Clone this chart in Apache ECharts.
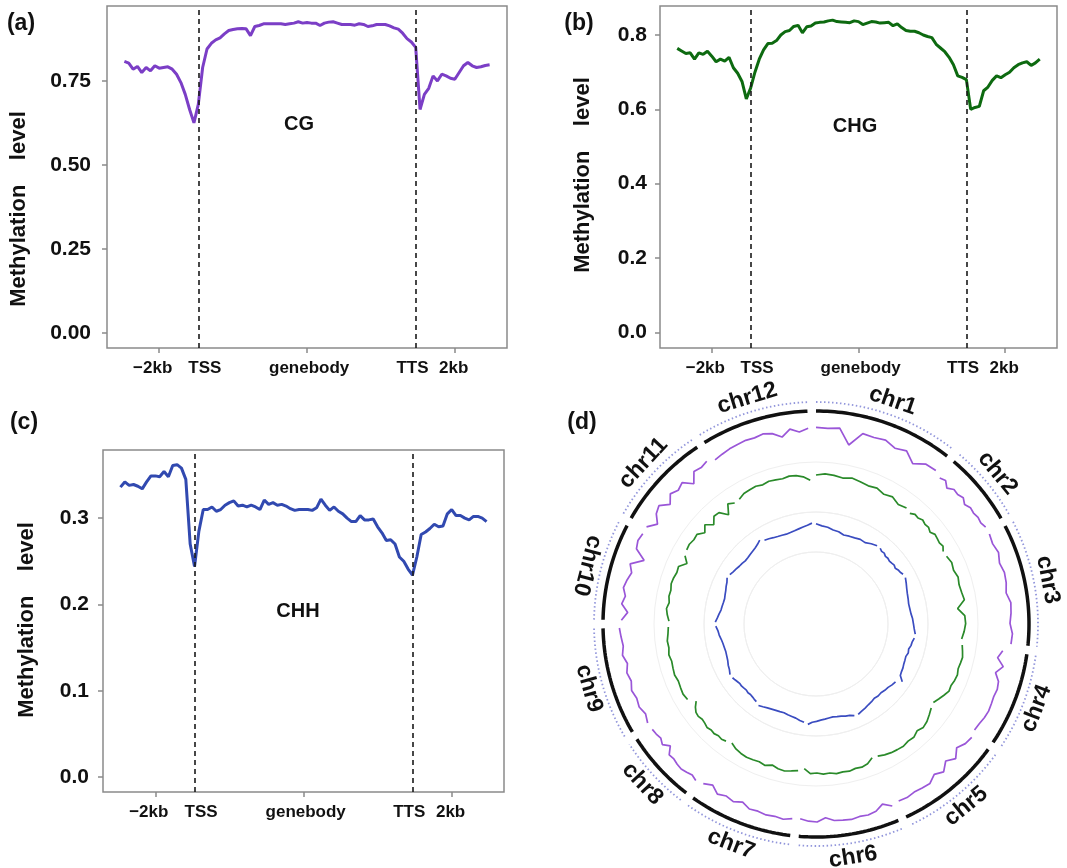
<!DOCTYPE html>
<html>
<head>
<meta charset="utf-8">
<script src="https://cdn.jsdelivr.net/npm/echarts@6/dist/echarts.min.js"></script>
<style>
html, body { margin: 0; padding: 0; background: #fff; }
#main { width: 1067px; height: 868px; }
</style>
</head>
<body>
<div id="main"></div>
<script>
// ---- profile plots (a)-(c): TSS = 0, TTS = 100, 2kb flank = 18 units ----
var binStart = -34, binStep = 2;
var cgProfile = [
  0.808,0.803,0.785,0.793,0.775,0.790,0.780,0.795,0.788,0.790,
  0.792,0.785,0.770,0.745,0.710,0.665,0.625,0.680,0.790,0.845,
  0.862,0.872,0.878,0.890,0.900,0.903,0.905,0.906,0.905,0.885,
  0.912,0.915,0.920,0.920,0.920,0.920,0.920,0.918,0.920,0.922,
  0.926,0.922,0.924,0.922,0.922,0.915,0.922,0.925,0.926,0.922,
  0.918,0.918,0.918,0.916,0.920,0.918,0.912,0.914,0.918,0.918,
  0.918,0.914,0.908,0.904,0.892,0.876,0.866,0.850,0.665,0.710,
  0.728,0.765,0.750,0.770,0.765,0.758,0.755,0.775,0.795,0.805,
  0.795,0.790,0.792,0.796,0.798
];
var chgProfile = [
  0.764,0.757,0.750,0.752,0.735,0.752,0.748,0.756,0.743,0.728,
  0.735,0.730,0.740,0.712,0.697,0.675,0.628,0.657,0.700,0.735,
  0.760,0.777,0.778,0.785,0.800,0.809,0.812,0.823,0.826,0.806,
  0.822,0.824,0.832,0.834,0.835,0.838,0.840,0.836,0.835,0.834,
  0.833,0.838,0.836,0.828,0.832,0.836,0.835,0.832,0.833,0.834,
  0.825,0.830,0.820,0.812,0.810,0.810,0.806,0.800,0.796,0.793,
  0.775,0.765,0.755,0.740,0.720,0.690,0.686,0.680,0.600,0.605,
  0.608,0.650,0.660,0.678,0.690,0.685,0.693,0.700,0.712,0.720,
  0.725,0.728,0.718,0.725,0.735
];
var chhProfile = [
  0.336,0.342,0.338,0.339,0.337,0.334,0.342,0.349,0.349,0.348,
  0.354,0.348,0.361,0.362,0.358,0.345,0.270,0.244,0.285,0.310,
  0.310,0.313,0.308,0.310,0.315,0.318,0.320,0.314,0.315,0.313,
  0.315,0.313,0.310,0.321,0.316,0.318,0.315,0.316,0.314,0.311,
  0.309,0.310,0.310,0.310,0.309,0.312,0.322,0.315,0.309,0.313,
  0.308,0.305,0.300,0.296,0.296,0.303,0.298,0.298,0.299,0.290,
  0.283,0.274,0.275,0.270,0.255,0.250,0.241,0.234,0.255,0.281,
  0.284,0.288,0.293,0.290,0.291,0.305,0.310,0.303,0.303,0.300,
  0.298,0.302,0.302,0.300,0.296
];
var xTickPos = [-18, 50, 118];
// label anchors sit a little off the ticks, as in the source figure
var xLabelPos = [-21, 3, 51, 98.5, 117.5];
var xLabelText = ['\u22122kb', 'TSS', 'genebody', 'TTS', '2kb'];
var siteLines = [0, 100];
var cgTicks = [0, 0.25, 0.5, 0.75];
var chgTicks = [0, 0.2, 0.4, 0.6, 0.8];
var chhTicks = [0, 0.1, 0.2, 0.3];

// ---- circos (d) ----
var chrNames = ['chr1','chr2','chr3','chr4','chr5','chr6','chr7','chr8','chr9','chr10','chr11','chr12'];
var chrSize = [38, 20, 33.3, 25.6, 28.9, 27.4, 28.3, 19.7, 29.3, 26.4, 26.3, 29.3];
var chrGap = 2.3;
var cgTrack = [
  [0.92,0.91,0.93,0.70,0.91,0.90,0.92,0.86,0.90,0.78,0.88,0.89],
  [0.84,0.87,0.80,0.86,0.85,0.88,0.83,0.87,0.86,0.88,0.87,0.90],
  [0.90,0.88,0.91,0.87,0.90,0.89,0.86,0.91,0.90,0.88,0.92,0.91],
  [0.80,0.74,0.85,0.76,0.84,0.86,0.85,0.86,0.87,0.86,0.84,0.83],
  [0.86,0.84,0.78,0.88,0.80,0.90,0.84,0.91,0.90,0.89,0.91,0.90],
  [0.93,0.85,0.92,0.94,0.93,0.95,0.94,0.93,0.88,0.94,0.93,0.90],
  [0.91,0.94,0.92,0.93,0.91,0.92,0.86,0.91,0.88,0.92,0.84,0.90],
  [0.93,0.90,0.92,0.94,0.93,0.91,0.92,0.82,0.90,0.86,0.88,0.89],
  [0.90,0.86,0.90,0.88,0.91,0.87,0.90,0.86,0.91,0.88,0.90,0.92],
  [0.89,0.80,0.90,0.86,0.91,0.88,0.84,0.90,0.72,0.89,0.92,0.90],
  [0.90,0.78,0.88,0.92,0.80,0.90,0.85,0.89,0.76,0.90,0.88,0.91],
  [0.86,0.88,0.90,0.91,0.92,0.91,0.93,0.90,0.82,0.92,0.86,0.91]
];
var chgTrack = [
  [0.80,0.82,0.81,0.79,0.82,0.80,0.78,0.80,0.76,0.79,0.74,0.77],
  [0.74,0.78,0.77,0.80,0.78,0.79,0.76,0.80,0.79,0.78,0.80,0.76],
  [0.77,0.80,0.78,0.81,0.79,0.80,0.82,0.70,0.80,0.81,0.79,0.76],
  [0.78,0.80,0.82,0.81,0.80,0.82,0.81,0.79,0.80,0.76,0.72,0.68],
  [0.70,0.74,0.78,0.80,0.77,0.81,0.80,0.82,0.81,0.80,0.78,0.75],
  [0.74,0.80,0.82,0.81,0.83,0.82,0.83,0.81,0.82,0.80,0.81,0.74],
  [0.78,0.80,0.82,0.81,0.78,0.82,0.80,0.81,0.82,0.81,0.79,0.75],
  [0.78,0.80,0.79,0.81,0.80,0.82,0.80,0.79,0.81,0.80,0.76,0.70],
  [0.80,0.82,0.81,0.80,0.82,0.81,0.80,0.82,0.80,0.81,0.79,0.78],
  [0.77,0.80,0.82,0.79,0.81,0.80,0.82,0.81,0.79,0.80,0.70,0.78],
  [0.80,0.81,0.79,0.80,0.72,0.80,0.70,0.79,0.78,0.66,0.80,0.75],
  [0.76,0.80,0.81,0.82,0.80,0.82,0.81,0.80,0.82,0.81,0.78,0.72]
];
var chhTrack = [
  [0.180,0.172,0.168,0.160,0.158,0.150,0.153,0.155,0.160,0.158,0.168,0.176],
  [0.176,0.170,0.172,0.166,0.168,0.165,0.167,0.170,0.166,0.172,0.174,0.180],
  [0.182,0.175,0.168,0.163,0.160,0.157,0.158,0.160,0.165,0.168,0.172,0.178],
  [0.176,0.170,0.168,0.162,0.165,0.160,0.162,0.164,0.168,0.170,0.174,0.195],
  [0.172,0.168,0.162,0.160,0.156,0.158,0.155,0.160,0.163,0.168,0.172,0.178],
  [0.176,0.168,0.165,0.160,0.158,0.155,0.157,0.160,0.163,0.168,0.172,0.182],
  [0.175,0.170,0.163,0.160,0.158,0.155,0.157,0.159,0.162,0.166,0.172,0.178],
  [0.170,0.168,0.165,0.163,0.165,0.162,0.164,0.166,0.165,0.168,0.172,0.176],
  [0.178,0.170,0.166,0.160,0.157,0.155,0.156,0.158,0.162,0.168,0.172,0.180],
  [0.182,0.174,0.168,0.162,0.160,0.158,0.157,0.160,0.163,0.168,0.172,0.180],
  [0.176,0.170,0.166,0.162,0.160,0.157,0.158,0.161,0.164,0.168,0.174,0.183],
  [0.172,0.168,0.163,0.160,0.158,0.156,0.158,0.161,0.165,0.170,0.175,0.183]
];

var FONT = '"Liberation Sans", Arial, Helvetica, sans-serif';
var GREY = '#8a8a8a';

function profileData(vals) {
  return vals.map(function (v, i) { return [binStart + i * binStep, v]; });
}

function makeX(gi) {
  return {
    type: 'value', gridIndex: gi, min: -42, max: 142,
    axisLine: { show: false, onZero: false },
    splitLine: { show: false },
    axisTick: { show: true, customValues: xTickPos, length: 5, lineStyle: { color: GREY, width: 1.5 } },
    axisLabel: {
      customValues: xLabelPos, margin: 12, color: '#111',
      fontSize: 17, fontWeight: 'bold', fontFamily: FONT,
      formatter: function (v) { return xLabelText[xLabelPos.indexOf(v)]; }
    }
  };
}
function makeY(gi, min, max, ticks, digits, margin) {
  return {
    type: 'value', gridIndex: gi, min: min, max: max,
    axisLine: { show: false, onZero: false },
    splitLine: { show: false },
    axisTick: { show: true, customValues: ticks, length: 5, lineStyle: { color: GREY, width: 1.5 } },
    axisLabel: {
      customValues: ticks, margin: margin, color: '#111',
      fontSize: 21, fontWeight: 'bold', fontFamily: FONT,
      formatter: function (v) { return v.toFixed(digits); }
    }
  };
}
function profileSeries(gi, vals, color) {
  return {
    type: 'line', xAxisIndex: gi, yAxisIndex: gi,
    data: profileData(vals), showSymbol: false, smooth: false,
    lineStyle: { color: color, width: 3 }, silent: true,
    markLine: {
      silent: true, symbol: ['none', 'none'], label: { show: false },
      lineStyle: { color: '#1a1a1a', type: [5, 4], width: 1.6 },
      data: siteLines.map(function (x) { return { xAxis: x }; })
    }
  };
}

// chromosome layout on the circle
var chrStart = [];
var acc = 0;
chrSize.forEach(function (s) { chrStart.push(acc); acc += s + chrGap; });
var genomeTotal = acc;

var cx = 816, cy = 624;
var polarRadii = [[162, 202], [112, 162], [72, 112], [0, 72], [0, 250]];
var trackRange = [[0.40, 1.0], [0.23, 1.0], [0.06, 0.23], [0, 1], [0, 250]];
var circleLine = [false, true, true, true, false];

var polars = [], angleAxes = [], radiusAxes = [];
polarRadii.forEach(function (r, i) {
  polars.push({ center: [cx, cy], radius: r });
  angleAxes.push({
    polarIndex: i, type: 'value', min: 0, max: genomeTotal, startAngle: 90, clockwise: true,
    axisLine: { show: circleLine[i], lineStyle: { color: '#efefef', width: 1 } },
    axisTick: { show: false }, axisLabel: { show: false }, splitLine: { show: false }
  });
  radiusAxes.push({
    polarIndex: i, type: 'value', min: trackRange[i][0], max: trackRange[i][1],
    axisLine: { show: false }, axisTick: { show: false }, axisLabel: { show: false }, splitLine: { show: false }
  });
});

var series = [
  profileSeries(0, cgProfile, '#7b3ec6'),
  profileSeries(1, chgProfile, '#0d6a10'),
  profileSeries(2, chhProfile, '#3149b0')
];

var tracks = [
  { vals: cgTrack, polar: 0, color: '#9a56d8' },
  { vals: chgTrack, polar: 1, color: '#2a8a2a' },
  { vals: chhTrack, polar: 2, color: '#3a4cc0' }
];
chrNames.forEach(function (name, k) {
  tracks.forEach(function (t) {
    var vals = t.vals[k];
    series.push({
      type: 'line', coordinateSystem: 'polar', polarIndex: t.polar,
      data: vals.map(function (v, i) { return [v, chrStart[k] + chrSize[k] * i / (vals.length - 1)]; }),
      symbol: 'none', lineStyle: { color: t.color, width: 1.7 }, silent: true
    });
  });
  // ideogram arc and dotted outer ring
  var n = Math.ceil(chrSize[k] / 0.5);
  var arc = [], dots = [];
  for (var i = 0; i <= n; i++) {
    var a = chrStart[k] + chrSize[k] * i / n;
    arc.push([213, a]);
    dots.push([222, a]);
  }
  series.push({
    type: 'line', coordinateSystem: 'polar', polarIndex: 4, data: arc,
    symbol: 'none', lineStyle: { color: '#111', width: 3.5 }, silent: true
  });
  series.push({
    type: 'line', coordinateSystem: 'polar', polarIndex: 4, data: dots,
    symbol: 'none', lineStyle: { color: '#9296db', width: 1.8, type: [1.5, 2.5] }, silent: true
  });
});

function labelRot(theta) {
  if (theta <= 90) return theta;
  if (theta <= 290) return theta - 180;
  return theta - 360;
}
series.push({
  type: 'scatter', coordinateSystem: 'polar', polarIndex: 4, silent: true,
  symbolSize: 1, itemStyle: { color: 'rgba(0,0,0,0)', opacity: 1 },
  label: {
    show: true, position: 'inside', formatter: '{b}', color: '#111', opacity: 1,
    textBorderWidth: 0, fontSize: 23, fontWeight: 'bold', fontFamily: FONT
  },
  data: chrNames.map(function (name, k) {
    var mid = chrStart[k] + chrSize[k] / 2;
    var theta = mid / genomeTotal * 360;
    return { name: name, value: [236, mid], label: { rotate: -labelRot(theta) } };
  })
});

function txt(x, y, s, size, rot, weight) {
  return {
    type: 'text', x: x, y: y, rotation: rot || 0, silent: true,
    style: {
      text: s, font: (weight || 'bold') + ' ' + size + 'px ' + FONT, fill: '#111',
      align: 'center', verticalAlign: 'middle', textAlign: 'center', textVerticalAlign: 'middle'
    }
  };
}

var option = {
  animation: false,
  backgroundColor: '#fff',
  grid: [
    { left: 107, top: 6, width: 400, height: 342, show: true, borderColor: GREY, borderWidth: 1.5 },
    { left: 660, top: 6, width: 397, height: 342, show: true, borderColor: GREY, borderWidth: 1.5 },
    { left: 103, top: 450, width: 401, height: 342, show: true, borderColor: GREY, borderWidth: 1.5 }
  ],
  xAxis: [makeX(0), makeX(1), makeX(2)],
  yAxis: [
    makeY(0, -0.045, 0.973, cgTicks, 2, 16),
    makeY(1, -0.042, 0.878, chgTicks, 1, 13),
    makeY(2, -0.0174, 0.379, chhTicks, 1, 14)
  ],
  polar: polars,
  angleAxis: angleAxes,
  radiusAxis: radiusAxes,
  series: series,
  graphic: [
    txt(21, 24, '(a)', 23), txt(579, 24, '(b)', 23), txt(24, 423, '(c)', 23), txt(582, 423, '(d)', 23),
    txt(19, 209, 'Methylation    level', 22, Math.PI / 2),
    txt(583, 175, 'Methylation    level', 22, Math.PI / 2),
    txt(27, 620, 'Methylation    level', 22, Math.PI / 2),
    txt(299, 124, 'CG', 20), txt(855, 126, 'CHG', 20), txt(298, 611, 'CHH', 20)
  ]
};

var chart = echarts.init(document.getElementById('main'));
chart.setOption(option);
</script>
</body>
</html>
